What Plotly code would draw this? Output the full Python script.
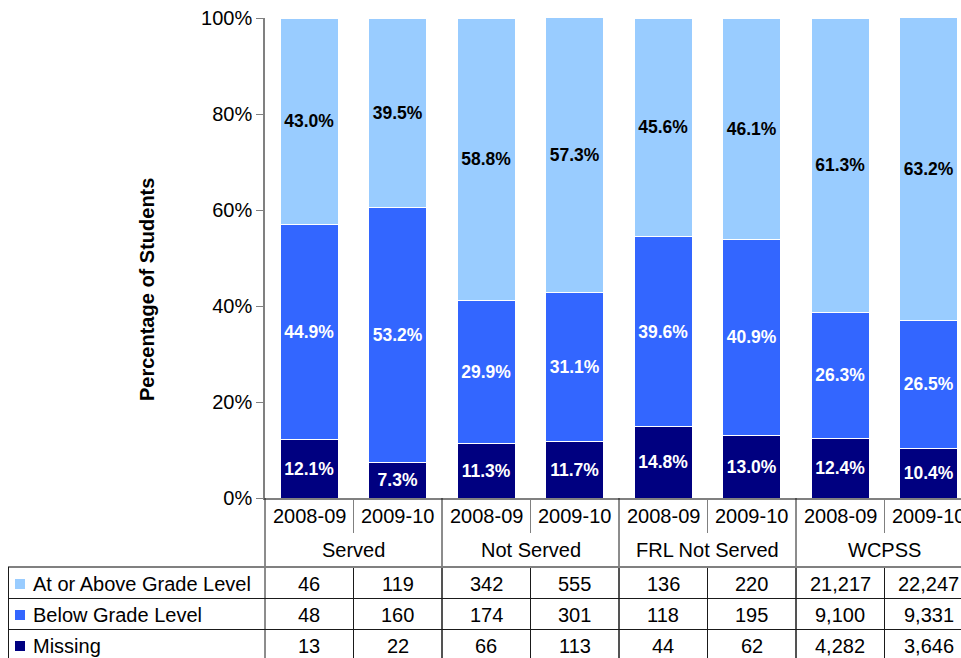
import plotly.graph_objects as go

# ---------------- data ----------------
groups = ["Served", "Not Served", "FRL Not Served", "WCPSS"]
years = ["2008-09", "2009-10"]
categories = [f"{g} {y}" for g in groups for y in years]

series_names = ["At or Above Grade Level", "Below Grade Level", "Missing"]
series_colors = ["#99CCFF", "#3366FF", "#000080"]
label_colors = ["#000000", "#FFFFFF", "#FFFFFF"]

pct_missing = [12.1, 7.3, 11.3, 11.7, 14.8, 13.0, 12.4, 10.4]
pct_below = [44.9, 53.2, 29.9, 31.1, 39.6, 40.9, 26.3, 26.5]
pct_above = [43.0, 39.5, 58.8, 57.3, 45.6, 46.1, 61.3, 63.2]

n_above = [46, 119, 342, 555, 136, 220, 21217, 22247]
n_below = [48, 160, 174, 301, 118, 195, 9100, 9331]
n_missing = [13, 22, 66, 113, 44, 62, 4282, 3646]

y_ticks = [0, 20, 40, 60, 80, 100]
y_title = "Percentage of Students"

# ---------------- layout constants ----------------
W, H = 961, 658
L, T, B = 265, 18, 160
PLOT_W = W - L
PLOT_H = H - T - B
CAT_PX = 88.5
FONT = "Liberation Sans, Arial, sans-serif"


def yp(py):
    return (H - B - py) / PLOT_H


def xp(px):
    return (px - L) / PLOT_W


x_idx = list(range(len(categories)))

fig = go.Figure()
stack = [
    (pct_missing, series_colors[2], label_colors[2], series_names[2]),
    (pct_below, series_colors[1], label_colors[1], series_names[1]),
    (pct_above, series_colors[0], label_colors[0], series_names[0]),
]
for vals, col, lcol, name in stack:
    fig.add_trace(go.Bar(
        x=x_idx, y=vals, name=name,
        marker=dict(color=col, line=dict(color="#FFFFFF", width=1)),
        width=0.655,
        text=[f"{v:.1f}%" for v in vals],
        textposition="inside", insidetextanchor="middle",
        constraintext="none",
        textfont=dict(family=FONT, size=17.5, color=lcol, weight="bold"),
        showlegend=False, hoverinfo="skip",
    ))

shapes = []
annotations = []
GRAY = "#808080"
DARK = "#1a1a1a"

# left border under plot (x=265) from axis down
shapes.append(dict(type="line", xref="paper", yref="paper", x0=0, x1=0,
                   y0=yp(498), y1=yp(700), line=dict(color=DARK, width=1)))
# short separators within groups (year row)
for gi in range(len(groups)):
    xb = gi * 2 + 0.5
    shapes.append(dict(type="line", xref="x", yref="paper", x0=xb, x1=xb,
                       y0=yp(498), y1=yp(533), line=dict(color=GRAY, width=1)))
# group boundaries full height
for gi in range(1, len(groups)):
    xb = gi * 2 - 0.5
    shapes.append(dict(type="line", xref="x", yref="paper", x0=xb, x1=xb,
                       y0=yp(498), y1=yp(700), line=dict(color=DARK, width=1)))
# category boundaries in data rows
for ci in range(len(categories)):
    xb = ci + 0.5
    shapes.append(dict(type="line", xref="x", yref="paper", x0=xb, x1=xb,
                       y0=yp(567), y1=yp(700), line=dict(color=DARK, width=1)))
# horizontal lines of table
row_lines = [567, 598.5, 629.5, 660.5]
for i, ly in enumerate(row_lines):
    shapes.append(dict(type="line", xref="paper", yref="paper", x0=xp(8), x1=1.05,
                       y0=yp(ly), y1=yp(ly),
                       line=dict(color=GRAY if i == 0 else DARK, width=2 if i == 0 else 1)))
# left border of legend column
shapes.append(dict(type="line", xref="paper", yref="paper", x0=xp(8.5), x1=xp(8.5),
                   y0=yp(567), y1=yp(700), line=dict(color=DARK, width=1)))

# year labels and group labels
for ci in range(len(categories)):
    annotations.append(dict(x=ci, y=yp(516), xref="x", yref="paper",
                            text=years[ci % 2], showarrow=False,
                            xanchor="center", yanchor="middle",
                            font=dict(family=FONT, size=20, color="#000000")))
for gi, g in enumerate(groups):
    annotations.append(dict(x=gi * 2 + 0.5, y=yp(550), xref="x", yref="paper",
                            text=g, showarrow=False, xanchor="center", yanchor="middle",
                            font=dict(family=FONT, size=20, color="#000000")))

# data rows
rows = [(series_names[0], series_colors[0], n_above),
        (series_names[1], series_colors[1], n_below),
        (series_names[2], series_colors[2], n_missing)]
row_centers = [584, 615, 646]
for (name, col, vals), cy in zip(rows, row_centers):
    shapes.append(dict(type="rect", xref="paper", yref="paper",
                       x0=xp(15), x1=xp(25), y0=yp(cy - 5), y1=yp(cy + 5),
                       fillcolor=col, line=dict(width=0)))
    annotations.append(dict(x=xp(31), y=yp(cy), xref="paper", yref="paper",
                            text=name, showarrow=False, xanchor="left", yanchor="middle",
                            font=dict(family=FONT, size=20, color="#000000")))
    for ci, v in enumerate(vals):
        annotations.append(dict(x=ci, y=yp(cy), xref="x", yref="paper",
                                text=f"{v:,}", showarrow=False,
                                xanchor="center", yanchor="middle",
                                font=dict(family=FONT, size=20, color="#000000")))

# y axis title
annotations.append(dict(x=xp(147), y=yp(290), xref="paper", yref="paper",
                        text=f"<b>{y_title}</b>", textangle=-90, showarrow=False,
                        xanchor="center", yanchor="middle",
                        font=dict(family=FONT, size=20, color="#000000")))

fig.update_layout(
    width=W, height=H,
    margin=dict(l=L, r=0, t=T, b=B, pad=0),
    barmode="stack",
    plot_bgcolor="#FFFFFF", paper_bgcolor="#FFFFFF",
    font=dict(family=FONT, size=20, color="#000000"),
    shapes=shapes, annotations=annotations,
    xaxis=dict(range=[-0.5, -0.5 + PLOT_W / CAT_PX], showticklabels=False,
               showgrid=False, zeroline=False, showline=True,
               linecolor=GRAY, linewidth=1.5, ticks=""),
    yaxis=dict(range=[0, 100], tickvals=y_ticks,
               ticktext=[f"{t}%" for t in y_ticks],
               showgrid=False, zeroline=False, showline=True,
               linecolor=GRAY, linewidth=1.5, ticks="outside", ticklen=7,
               tickcolor=GRAY, tickfont=dict(family=FONT, size=20, color="#000000")),
)

fig.write_html("out.html")
